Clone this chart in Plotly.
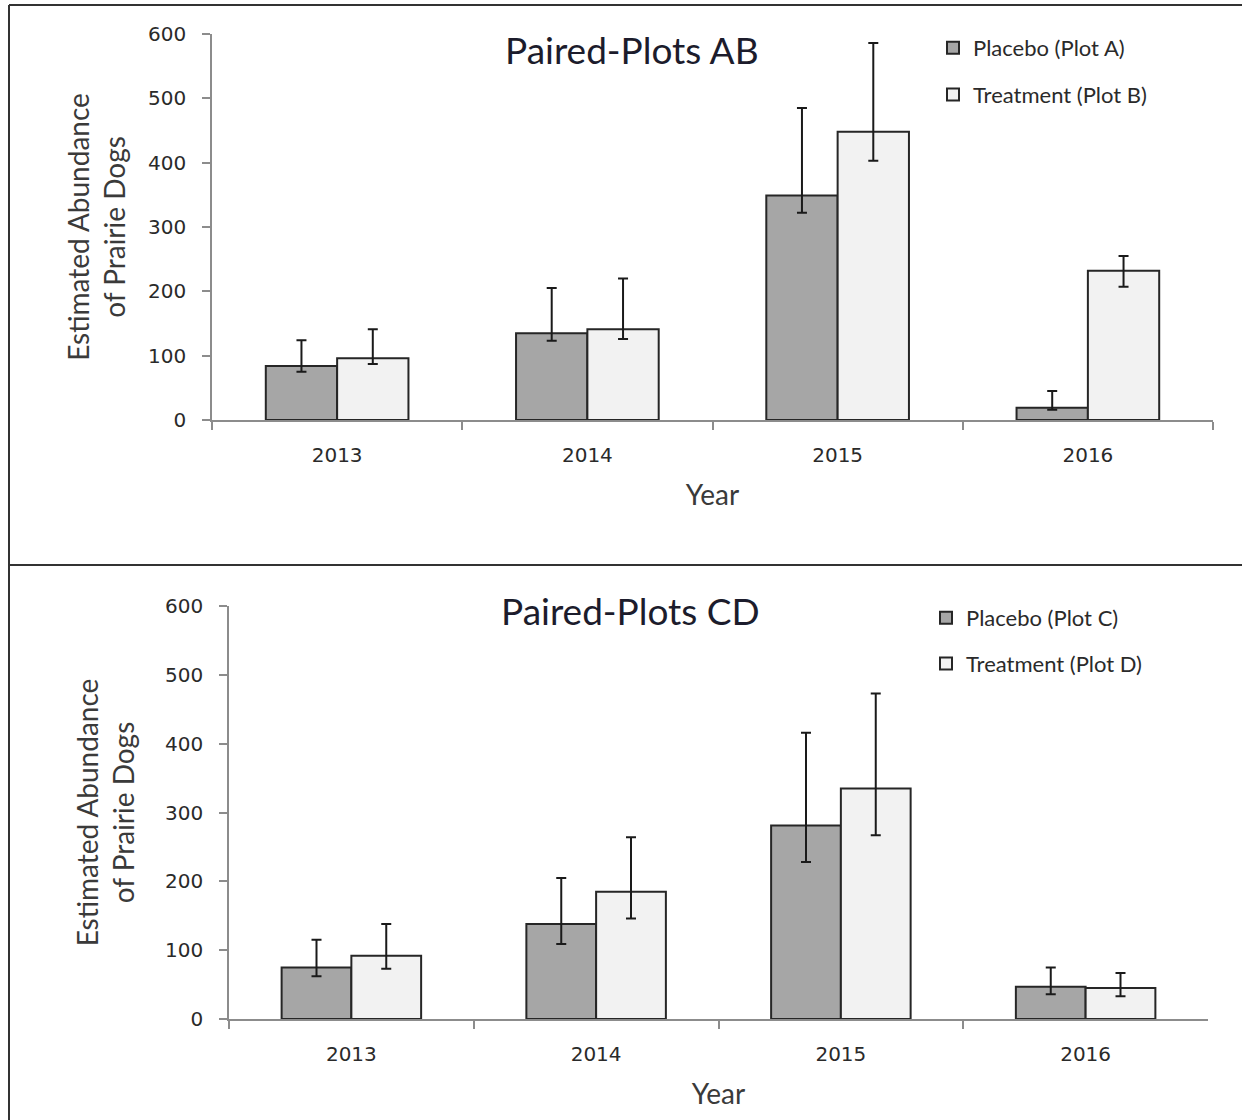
import plotly.graph_objects as go

years = ["2013", "2014", "2015", "2016"]

# Paired-Plots AB
ab_placebo = [84, 135, 349, 19]
ab_placebo_up = [124, 205, 485, 45]
ab_placebo_lo = [75, 123, 322, 16]
ab_treat = [96, 141, 448, 232]
ab_treat_up = [141, 220, 586, 255]
ab_treat_lo = [87, 126, 403, 207]

# Paired-Plots CD
cd_placebo = [75, 138, 281, 47]
cd_placebo_up = [115, 205, 416, 75]
cd_placebo_lo = [62, 109, 228, 36]
cd_treat = [92, 185, 335, 45]
cd_treat_up = [138, 264, 473, 67]
cd_treat_lo = [73, 146, 267, 33]

W, H = 1242, 1120
def px(x): return x / W
def py(y): return 1 - y / H

DARK_FILL = "#a6a6a6"
LIGHT_FILL = "#f2f2f2"
OUTLINE = "#262626"
AXIS = "#8c8c8c"
TICKFONT = dict(family="DejaVu Sans", size=20, color="#2a2a2a")
TITLEFONT = dict(family="Lato", size=28, color="#3a3a3a")
LEGFONT = dict(family="Lato", size=22, color="#2a2a2a")

def bar(name, vals, up, lo, fill, xa, ya, legend, group):
    return go.Bar(
        x=years, y=vals, name=name,
        marker=dict(color=fill, line=dict(color=OUTLINE, width=2)),
        error_y=dict(type="data", symmetric=False,
                     array=[u - v for u, v in zip(up, vals)],
                     arrayminus=[v - l for v, l in zip(vals, lo)],
                     color="#1a1a1a", thickness=2, width=5),
        xaxis=xa, yaxis=ya, legend=legend, legendgroup=group,
    )

fig = go.Figure()
fig.add_trace(bar("Placebo (Plot A)", ab_placebo, ab_placebo_up, ab_placebo_lo, DARK_FILL, "x", "y", "legend", "a"))
fig.add_trace(bar("Treatment (Plot B)", ab_treat, ab_treat_up, ab_treat_lo, LIGHT_FILL, "x", "y", "legend", "b"))
fig.add_trace(bar("Placebo (Plot C)", cd_placebo, cd_placebo_up, cd_placebo_lo, DARK_FILL, "x2", "y2", "legend2", "c"))
fig.add_trace(bar("Treatment (Plot D)", cd_treat, cd_treat_up, cd_treat_lo, LIGHT_FILL, "x2", "y2", "legend2", "d"))

def xaxis_cfg(domain, anchor):
    return dict(domain=domain, anchor=anchor, type="category", showline=True,
                linecolor=AXIS, linewidth=1.5, ticks="outside", ticklen=8,
                tickcolor=AXIS, tickwidth=1.5, tickson="boundaries", showgrid=False,
                zeroline=False, automargin=False, tickfont=TICKFONT, ticklabelstandoff=16,
                title=dict(text="Year", font=TITLEFONT, standoff=20))

def yaxis_cfg(domain, anchor, standoff):
    return dict(domain=domain, anchor=anchor, range=[0, 600], dtick=100, showline=True,
                linecolor=AXIS, linewidth=1.5, ticks="outside", ticklen=8,
                tickcolor=AXIS, tickwidth=1.5, automargin=False, showgrid=False,
                zeroline=False, tickfont=TICKFONT, ticklabelstandoff=12,
                title=dict(text="Estimated Abundance<br>of Prairie Dogs", font=TITLEFONT,
                           standoff=standoff))

fig.update_layout(
    width=W, height=H, margin=dict(l=0, r=0, t=0, b=0, autoexpand=False),
    paper_bgcolor="white", plot_bgcolor="white",
    barmode="group", bargap=0.43, bargroupgap=0,
    xaxis=xaxis_cfg([px(212), px(1213)], "y"),
    yaxis=yaxis_cfg([py(420), py(34)], "x", 14),
    xaxis2=xaxis_cfg([px(229), px(1208)], "y2"),
    yaxis2=yaxis_cfg([py(1019), py(606)], "x2", 22),
    legend=dict(x=px(933), y=py(27), xanchor="left", yanchor="top", font=LEGFONT,
                tracegroupgap=15, itemwidth=30, bgcolor="rgba(0,0,0,0)"),
    legend2=dict(x=px(926), y=py(597), xanchor="left", yanchor="top", font=LEGFONT,
                 tracegroupgap=14, itemwidth=30, bgcolor="rgba(0,0,0,0)"),
    showlegend=True,
    annotations=[
        dict(text="Paired-Plots AB", x=px(632), y=py(50), xref="paper", yref="paper",
             xanchor="center", yanchor="middle",
             showarrow=False, font=dict(family="Lato", size=37, color="#1c1c2c")),
        dict(text="Paired-Plots CD", x=px(630), y=py(610), xref="paper", yref="paper",
             xanchor="center", yanchor="middle",
             showarrow=False, font=dict(family="Lato", size=37, color="#1c1c2c")),
    ],
    shapes=[
        dict(type="line", xref="paper", yref="paper", x0=px(9), x1=1.01, y0=py(5), y1=py(5),
             line=dict(color="#333333", width=2)),
        dict(type="line", xref="paper", yref="paper", x0=px(9), x1=px(9), y0=py(5), y1=-0.01,
             line=dict(color="#333333", width=2)),
        dict(type="line", xref="paper", yref="paper", x0=px(9), x1=1.01, y0=py(565), y1=py(565),
             line=dict(color="#333333", width=2)),
    ],
)

fig.write_html("out.html", config={"displayModeBar": False},
               post_script="document.body.style.margin='0';")
